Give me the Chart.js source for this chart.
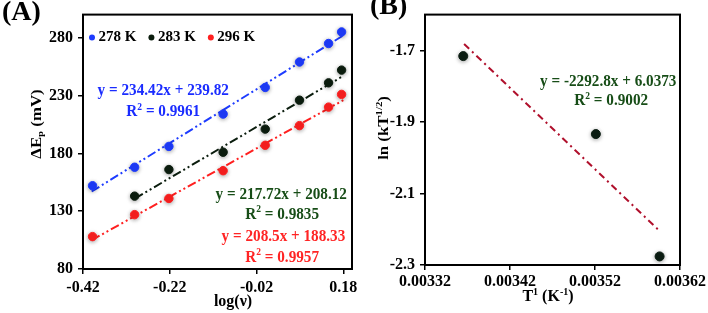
<!DOCTYPE html>
<html><head><meta charset="utf-8">
<script src="https://cdn.jsdelivr.net/npm/chart.js@4/dist/chart.umd.min.js"></script>
<style>
html,body{margin:0;padding:0;background:#fff;}
#wrap{position:relative;width:708px;height:313px;overflow:hidden;background:#fff;}
#cA,#cB{position:absolute;top:0;}
</style></head><body>
<div id="wrap">
<canvas id="cA" width="366" height="313" style="left:0px"></canvas>
<canvas id="cB" width="342" height="313" style="left:366px"></canvas>
</div>
<script>
// ---------- Panel A data ----------
const logV   = [-0.398, -0.301, -0.222, -0.097, 0.000, 0.079, 0.146, 0.176];
const dEp278 = [152, 168, 186, 214, 237, 259, 275, 285];
const dEp283 = [null, 143, 166, 181, 201, 226, 241, 252];
const dEp296 = [108, 127, 141, 165, 187, 204, 220, 231];
const fitX278 = [-0.40, 0.18], fitY278 = [147, 282];
const fitX283 = [-0.30, 0.18], fitY283 = [141, 247];
const fitX296 = [-0.40, 0.18], fitY296 = [105, 226];
const seriesNamesA = ['278 K', '283 K', '296 K'];
const ticksAx = [-0.42, -0.22, -0.02, 0.18];
const ticksAxLabels = ['-0.42', '-0.22', '-0.02', '0.18'];
const ticksAy = [80, 130, 180, 230, 280];
const ticksAyLabels = ['80', '130', '180', '230', '280'];

// ---------- Panel B data ----------
const invT = [0.003365, 0.003521, 0.003596];
const lnK  = [-1.716, -1.934, -2.276];
const fitXB = [0.003366, 0.003596], fitYB = [-1.682, -2.205];
const ticksBx = [0.00332, 0.00342, 0.00352, 0.00362];
const ticksBxLabels = ['0.00332', '0.00342', '0.00352', '0.00362'];
const ticksBy = [-2.3, -2.1, -1.9, -1.7];
const ticksByLabels = ['-2.3', '-2.1', '-1.9', '-1.7'];

const FONT = '"Liberation Serif", "Times New Roman", serif';
Chart.defaults.font.family = FONT;
Chart.defaults.font.weight = 'bold';
Chart.defaults.font.size = 15;
Chart.defaults.color = '#000';

const C = {
  blue: '#1e3cff', black: '#0b1d0e', red: '#ff2020',
  blueTxt: '#1a2cff', greenTxt: '#174d17', redTxt: '#ff2424',
  bLine: '#b0102c', bPt: '#0b1d12'
};

function pts(xs, ys) { return xs.map((x, i) => ({x: x, y: ys[i]})).filter(p => p.y !== null); }

function drawRich(ctx, x, y, segs, o) {
  const size = o.size || 15, sx = o.sx || 1;
  ctx.save();
  ctx.translate(x, y);
  if (o.rotate) ctx.rotate(-Math.PI / 2);
  ctx.scale(sx, 1);
  ctx.fillStyle = o.color || '#000';
  ctx.textBaseline = 'middle';
  ctx.textAlign = 'left';
  let w = 0;
  const f = s => (s.sub || s.sup) ? Math.round(size * 0.62) : size;
  segs.forEach(s => { ctx.font = 'bold ' + f(s) + 'px ' + FONT; w += ctx.measureText(s.t).width; });
  let cx = o.align === 'left' ? 0 : -w / 2;
  segs.forEach(s => {
    ctx.font = 'bold ' + f(s) + 'px ' + FONT;
    const dy = s.sub ? size * 0.28 : (s.sup ? -size * 0.3 : 0);
    ctx.fillText(s.t, cx, dy);
    cx += ctx.measureText(s.t).width;
  });
  ctx.restore();
}

function framePlugin(decorFn) {
  return {
    id: 'frameDecor',
    afterDraw(chart) {
      const a = chart.chartArea, ctx = chart.ctx;
      ctx.save();
      ctx.strokeStyle = '#000'; ctx.lineWidth = 2;
      ctx.strokeRect(a.left, a.top, a.right - a.left, a.bottom - a.top);
      ctx.restore();
      decorFn(chart);
    }
  };
}
const glow = {
  id: 'glow',
  beforeDatasetDraw(chart, args) {
    const ds = chart.data.datasets[args.index];
    if (ds.pointRadius > 0) {
      chart.ctx.save();
      chart.ctx.shadowColor = 'rgba(0,0,0,0.35)';
      chart.ctx.shadowBlur = 4;
      chart.ctx.shadowOffsetY = 1;
    }
  },
  afterDatasetDraw(chart, args) {
    const ds = chart.data.datasets[args.index];
    if (ds.pointRadius > 0) chart.ctx.restore();
  }
};

function axis(min, max, tickVals, tickLabels, fitSize, isX, pad) {
  return {
    type: 'linear', min: min, max: max,
    afterBuildTicks: s => { s.ticks = tickVals.map(v => ({value: v})); },
    afterFit: s => { if (isX) s.height = fitSize; else s.width = fitSize; },
    grid: { display: true, drawOnChartArea: false, drawTicks: true, tickLength: 5, color: '#000', lineWidth: 1.5 },
    border: { display: true, color: '#000', width: 2 },
    ticks: { autoSkip: false, maxRotation: 0, padding: pad, color: '#000',
      font: { size: 16, weight: 'bold', family: FONT },
      callback: (v, i) => tickLabels[i] }
  };
}

const dashA = [9, 3, 2, 3, 2, 3];

// ---------------- Chart A ----------------
function decorA(chart) {
  const ctx = chart.ctx, xs = chart.scales.x, ys = chart.scales.y, a = chart.chartArea;
  let lx = a.left + 9; const ly = a.top + 23;
  chart.data.datasets.filter(d => d.legend).forEach(d => {
    ctx.save();
    ctx.fillStyle = d.backgroundColor;
    ctx.beginPath(); ctx.arc(lx, ly, 3, 0, Math.PI * 2); ctx.fill();
    ctx.font = 'bold 15px ' + FONT; ctx.fillStyle = '#000';
    ctx.textBaseline = 'middle'; ctx.textAlign = 'left';
    ctx.fillText(d.label, lx + 6.5, ly);
    lx += 6.5 + ctx.measureText(d.label).width + 15;
    ctx.restore();
  });
  const eq = (vx, vy, segs, col) => drawRich(ctx, xs.getPixelForValue(vx), ys.getPixelForValue(vy), segs, {size: 16, color: col, sx: 0.95});
  eq(-0.235, 234, [{t: 'y = 234.42x + 239.82'}], C.blueTxt);
  eq(-0.235, 216, [{t: 'R'}, {t: '2', sup: true}, {t: ' = 0.9961'}], C.blueTxt);
  eq(0.037, 144, [{t: 'y = 217.72x + 208.12'}], C.greenTxt);
  eq(0.039, 127, [{t: 'R'}, {t: '2', sup: true}, {t: ' = 0.9835'}], C.greenTxt);
  eq(0.042, 108, [{t: 'y = 208.5x + 188.33'}], C.redTxt);
  eq(0.039, 90, [{t: 'R'}, {t: '2', sup: true}, {t: ' = 0.9957'}], C.redTxt);
  drawRich(ctx, 2, 13, [{t: '(A)'}], {size: 28, align: 'left'});
  drawRich(ctx, 233, 302, [{t: 'log(ν)'}], {size: 16});
  drawRich(ctx, 37, 124, [{t: 'ΔE'}, {t: 'p', sub: true}, {t: ' (mV)'}], {size: 14, rotate: true, sx: 1.2});
}

new Chart(document.getElementById('cA'), {
  type: 'scatter',
  data: { datasets: [
    { label: seriesNamesA[0], data: pts(logV, dEp278), backgroundColor: C.blue, borderColor: C.blue, pointRadius: 4.2, legend: true },
    { label: seriesNamesA[1], data: pts(logV, dEp283), backgroundColor: C.black, borderColor: C.black, pointRadius: 4.2, legend: true },
    { label: seriesNamesA[2], data: pts(logV, dEp296), backgroundColor: C.red, borderColor: C.red, pointRadius: 4.2, legend: true },
    { label: 'fit 278', data: pts(fitX278, fitY278), showLine: true, pointRadius: 0, borderColor: C.blue, borderWidth: 2, borderDash: dashA },
    { label: 'fit 283', data: pts(fitX283, fitY283), showLine: true, pointRadius: 0, borderColor: C.black, borderWidth: 2, borderDash: dashA },
    { label: 'fit 296', data: pts(fitX296, fitY296), showLine: true, pointRadius: 0, borderColor: C.red, borderWidth: 2, borderDash: dashA }
  ]},
  options: {
    responsive: false, animation: false, devicePixelRatio: 1,
    layout: { padding: { top: 8, right: 14, left: 0, bottom: 0 } },
    scales: {
      x: axis(-0.42, 0.20, ticksAx, ticksAxLabels, 44, true, 4),
      y: axis(80, 300, ticksAy, ticksAyLabels, 83, false, 5)
    },
    plugins: { legend: { display: false }, tooltip: { enabled: false } }
  },
  plugins: [glow, framePlugin(decorA)]
});

// ---------------- Chart B ----------------
function decorB(chart) {
  const ctx = chart.ctx, xs = chart.scales.x, ys = chart.scales.y;
  const eq = (vx, vy, segs) => drawRich(ctx, xs.getPixelForValue(vx), ys.getPixelForValue(vy), segs, {size: 16, color: C.greenTxt, sx: 0.95});
  eq(0.0035356, -1.787, [{t: 'y = -2292.8x + 6.0373'}]);
  eq(0.0035391, -1.841, [{t: 'R'}, {t: '2', sup: true}, {t: ' = 0.9002'}]);
  drawRich(ctx, 4, 7, [{t: '(B)'}], {size: 28, align: 'left'});
  drawRich(ctx, 182, 297, [{t: 'T'}, {t: '1', sup: true}, {t: ' (K'}, {t: '-1', sup: true}, {t: ')'}], {size: 16});
  drawRich(ctx, 18, 128, [{t: 'ln (kT'}, {t: '1/2', sup: true}, {t: ')'}], {size: 14, rotate: true, sx: 1.2});
}

new Chart(document.getElementById('cB'), {
  type: 'scatter',
  data: { datasets: [
    { label: 'ln k', data: pts(invT, lnK), backgroundColor: C.bPt, borderColor: C.bPt, pointRadius: 4.5 },
    { label: 'fit', data: pts(fitXB, fitYB), showLine: true, pointRadius: 0, borderColor: C.bLine, borderWidth: 2, borderDash: [7, 4, 2, 4] }
  ]},
  options: {
    responsive: false, animation: false, devicePixelRatio: 1,
    layout: { padding: { top: 8, right: 27, left: 0, bottom: 0 } },
    scales: {
      x: axis(0.00332, 0.00362, ticksBx, ticksBxLabels, 48, true, 2),
      y: axis(-2.3, -1.6, ticksBy, ticksByLabels, 59, false, 5)
    },
    plugins: { legend: { display: false }, tooltip: { enabled: false } }
  },
  plugins: [glow, framePlugin(decorB)]
});
</script>
</body></html>
